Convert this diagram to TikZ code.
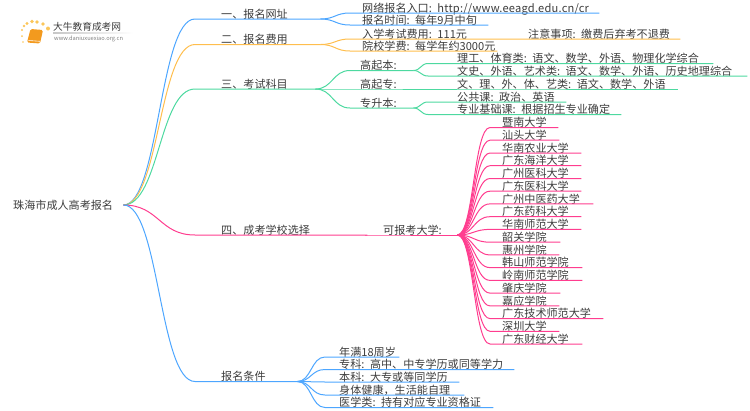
\documentclass[tikz,border=0pt]{standalone}
\usepackage{fontspec}
\setmainfont{Noto Sans CJK SC}
\usetikzlibrary{calc}
\definecolor{bluebr}{HTML}{4DA6FF}
\definecolor{orangebr}{HTML}{FFBE4D}
\definecolor{greenbr}{HTML}{4DD9A0}
\definecolor{pinkbr}{HTML}{FF3D8F}
\definecolor{bookor}{HTML}{F39A1E}
\definecolor{dotor}{HTML}{FBC65A}
\definecolor{inkgray}{HTML}{3C3C3C}
\tikzset{
  pad/.style={execute at begin node={\leftskip=#1\relax}},
  lab/.style={anchor=south west,inner sep=0pt,text depth=0.7pt,text height=9pt,align=left,text width=#1},
  branch/.style={to path={let \p1=(\tikztostart),\p2=(\tikztotarget) in
    .. controls ({(\x1+\x2)/2},\y1) and ({(\x1+\x2)/2},\y2) .. (\tikztotarget) \tikztonodes}},
  wire/.style={draw=#1,line width=1pt},
}
\begin{document}
\begin{tikzpicture}[x=1pt,y=-1pt,font=\fontsize{11.1}{13}\selectfont,text=inkgray]
    \useasboundingbox (0,0) rectangle (750,410);
    % logo
    \fill [bookor,rounded corners=1.5pt] (30.5,29) -- (43,30) -- (40,43.5) -- (27,42.5) -- cycle;
    \draw [white,line width=0.6pt] (28.5,40.5) -- (40,41.3);
    \foreach \px/\py/\rr in {22/30/1.2,24/26/1.3,27/23.5/1.6,32/21.5/1.8,37/22/1.9,43/24/1.9,48/28.5/2,22/36/1,23/42/.9}
      \fill [dotor] (\px,\py) circle (\rr pt);
    \node (logoname) [anchor=west,inner sep=0pt,font=\fontsize{9.7}{11}\selectfont] at (53,27) {大牛教育成考网};
    \node (logourl) [anchor=west,inner sep=0pt,text=gray,font=\fontsize{5.7}{6}\selectfont] at (54,38.5) {www.daniuxuexiao.org.cn};
    \shade [left color=black!22,right color=white] (53,32.8) rectangle (133,33.4);
    % root and branches
    \node (root) [anchor=west,inner sep=0pt,text width=110pt] at (13,205) {珠海市成人高考报名};
    \node (one) [lab=125pt,pad=26pt] at (195,19) {一、报名网址};
    \node (two) [lab=125pt,pad=26pt] at (195,44.5) {二、报名费用};
    \node (three) [lab=120pt,pad=26pt] at (195,89) {三、考试科目};
    \node (four) [lab=172pt,pad=26pt] at (195,235) {四、成考学校选择};
    \node (five) [lab=102pt,pad=26pt] at (195,381.5) {报名条件};
    \draw [wire=bluebr] (root.east) to [branch] (one.south west) -- (one.south east);
    \draw [wire=orangebr] (root.east) to [branch] (two.south west) -- (two.south east);
    \draw [wire=greenbr] (root.east) to [branch] (three.south west) -- (three.south east);
    \draw [wire=pinkbr] (root.east) to [branch] (four.south west) -- (four.south east);
    \draw [wire=bluebr] (root.east) to [branch] (five.south west) -- (five.south east);
    % one
    \node (site) [lab=249pt,pad=12pt] at (350,13) {网络报名入口: {\addfontfeature{LetterSpace=2}http://www.eeagd.edu.cn/cr}};
    \node (time) [lab=138pt,pad=12pt] at (350,25) {报名时间: 每年9月中旬};
    \draw [wire=bluebr] (one.south east) to [branch] (site.south west) -- (site.south east);
    \draw [wire=bluebr] (one.south east) to [branch] (time.south west) -- (time.south east);
    % two
    \node (exam) [lab=118pt,pad=12pt] at (350,39) {入学考试费用: 111元};
    \node (note) [lab=152pt,pad=0pt] at (528,39) {注意事项: 缴费后弃考不退费};
    \node (fee) [lab=147pt,pad=12pt] at (350,51) {院校学费: 每学年约3000元};
    \draw [wire=orangebr] (two.south east) to [branch] (exam.south west) -- (exam.south east) -- (note.south west) -- (note.south east);
    \draw [wire=orangebr] (two.south east) to [branch] (fee.south west) -- (fee.south east);
    % three
    \node (gqb) [lab=63pt,pad=10pt] at (350,70.5) {高起本:};
    \node (gqz) [lab=107pt,pad=10pt] at (350,89) {高起专:};
    \node (zsb) [lab=63pt,pad=10pt] at (350,108) {专升本:};
    \node (lg) [lab=285pt,pad=29pt] at (428,63.5) {理工、体育类: 语文、数学、外语、物理化学综合};
    \node (ws) [lab=319pt,pad=29pt] at (428,76) {文史、外语、艺术类: 语文、数学、外语、历史地理综合};
    \node (gz) [lab=221pt,pad=0pt] at (457,89) {文、理、外、体、艺类: 语文、数学、外语};
    \node (gg) [lab=138pt,pad=29pt] at (428,102) {公共课: 政治、英语};
    \node (zy) [lab=193pt,pad=29pt] at (428,114.5) {专业基础课: 根据招生专业确定};
    \draw [wire=greenbr] (three.south east) to [branch] (gqb.south west) -- (gqb.south east);
    \draw [wire=greenbr] (three.south east) -- (gqz.south west) -- (gqz.south east);
    \draw [wire=greenbr] (three.south east) to [branch] (zsb.south west) -- (zsb.south east);
    \draw [wire=greenbr] (gqb.south east) to [branch] (lg.south west) -- (lg.south east);
    \draw [wire=greenbr] (gqb.south east) to [branch] (ws.south west) -- (ws.south east);
    \draw [wire=greenbr] (gqz.south east) -- (gz.south west) -- (gz.south east);
    \draw [wire=greenbr] (zsb.south east) to [branch] (gg.south west) -- (gg.south east);
    \draw [wire=greenbr] (zsb.south east) to [branch] (zy.south west) -- (zy.south east);
    % four
    \node (can) [lab=92pt,pad=18pt] at (365,235) {可报考大学:};
    \draw [wire=pinkbr] (four.south east) -- (can.south west) -- (can.south east);
    \foreach \nm/\yy/\ww/\txt in {
      u1/127.5/68/暨南大学, u2/140.2/69/汕头大学, u3/153/91/华南农业大学,
      u4/165.7/91/广东海洋大学, u5/178.5/91/广州医科大学, u6/191.2/91/广东医科大学,
      u7/203.9/103/广州中医药大学, u8/216.7/91/广东药科大学, u9/229.4/91/华南师范大学,
      u10/242.2/70/韶关学院, u11/254.9/69/惠州学院, u12/267.6/92/韩山师范学院,
      u13/280.4/92/岭南师范学院, u14/293.1/70/肇庆学院, u15/305.9/69/嘉应学院,
      u16/318.6/113/广东技术师范大学, u17/331.3/69/深圳大学, u18/344/92/广东财经大学}
    {
      \node (\nm) [lab=\ww pt,pad=12pt] at (490,\yy) {\txt};
      \draw [wire=pinkbr] (can.south east) to [branch] (\nm.south west) -- (\nm.south east);
    }
    % five
    \node (age) [lab=74pt,pad=14pt] at (325,357) {年满18周岁};
    \node (zk) [lab=189pt,pad=14pt] at (325,369.5) {专科: 高中、中专学历或同等学力};
    \node (bk) [lab=134pt,pad=14pt] at (325,382) {本科: 大专或等同学历};
    \node (body) [lab=139pt,pad=14pt] at (325,395) {身体健康，生活能自理};
    \node (med) [lab=168pt,pad=14pt] at (325,407.5) {医学类: 持有对应专业资格证};
    \draw [wire=bluebr] (five.south east) to [branch] (age.south west) -- (age.south east);
    \draw [wire=bluebr] (five.south east) to [branch] (zk.south west) -- (zk.south east);
    \draw [wire=bluebr] (five.south east) to [branch] (bk.south west) -- (bk.south east);
    \draw [wire=bluebr] (five.south east) to [branch] (body.south west) -- (body.south east);
    \draw [wire=bluebr] (five.south east) to [branch] (med.south west) -- (med.south east);
\end{tikzpicture}
\end{document}
